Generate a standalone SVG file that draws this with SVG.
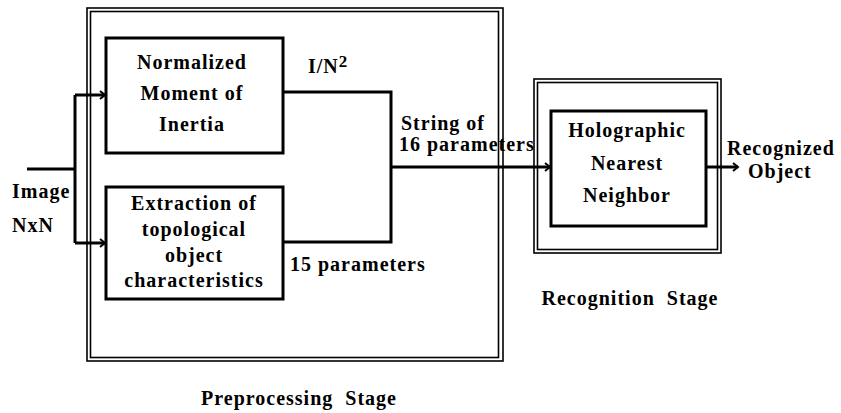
<svg xmlns="http://www.w3.org/2000/svg" width="841" height="413" viewBox="0 0 841 413">
<style>
text{font-family:'Liberation Serif','Times New Roman',serif;font-weight:bold;font-size:20px;letter-spacing:1px;fill:#000}
.box{fill:none;stroke:#000;stroke-width:3}
.thin{fill:none;stroke:#000;stroke-width:1.6}
.wire{fill:none;stroke:#000;stroke-width:3}
.m{text-anchor:middle}
.sup{font-size:17px}
</style>
<defs>
<marker id="arr" markerWidth="10" markerHeight="10" refX="8" refY="5" orient="auto" markerUnits="userSpaceOnUse">
<path d="M3,1 L8,5 L3,9" fill="none" stroke="#000" stroke-width="2"/>
</marker>
</defs>
<rect width="841" height="413" fill="#fff"/>
<g id="preprocessing-stage">
<rect class="thin" x="87" y="8" width="416" height="353"/>
<rect class="thin" x="90.5" y="11.5" width="408" height="346"/>
<text class="m" x="299" y="405" xml:space="preserve">Preprocessing  Stage</text>
</g>
<g id="recognition-stage">
<rect class="thin" x="534" y="79" width="187" height="174"/>
<rect class="thin" x="537.5" y="82.5" width="180" height="167"/>
<text class="m" x="630" y="305" xml:space="preserve">Recognition  Stage</text>
</g>
<g id="normalized-moment">
<rect class="box" x="106" y="38" width="177" height="115"/>
<text class="m" x="192" y="69">Normalized</text>
<text class="m" x="192" y="100">Moment of</text>
<text class="m" x="192" y="131">Inertia</text>
</g>
<g id="extraction">
<rect class="box" x="106" y="187" width="177" height="112"/>
<text class="m" x="194" y="210">Extraction of</text>
<text class="m" x="194" y="236">topological</text>
<text class="m" x="194" y="262">object</text>
<text class="m" x="194" y="287">characteristics</text>
</g>
<g id="holographic">
<rect class="box" x="551" y="111" width="155" height="115"/>
<text class="m" x="627" y="137">Holographic</text>
<text class="m" x="627" y="170">Nearest</text>
<text class="m" x="627" y="202">Neighbor</text>
</g>
<g id="connectors">
<path class="wire" d="M27,169 H75"/>
<path class="wire" d="M75,95 V243"/>
<path class="wire" d="M75,95 H105" marker-end="url(#arr)"/>
<path class="wire" d="M75,243 H105" marker-end="url(#arr)"/>
<path class="wire" d="M283,92 H391 V242 H283"/>
<path class="wire" d="M391,167 H550" marker-end="url(#arr)"/>
<path class="wire" d="M706,167 H738" marker-end="url(#arr)"/>
</g>
<g id="labels">
<text x="12" y="198">Image</text>
<text x="12" y="232">NxN</text>
<text x="308" y="73">I/N<tspan class="sup" dy="-6">2</tspan></text>
<text x="401" y="130">String of</text>
<text x="399" y="151">16 parameters</text>
<text x="290" y="271">15 parameters</text>
<text x="727" y="155">Recognized</text>
<text x="748" y="178">Object</text>
</g>
</svg>
